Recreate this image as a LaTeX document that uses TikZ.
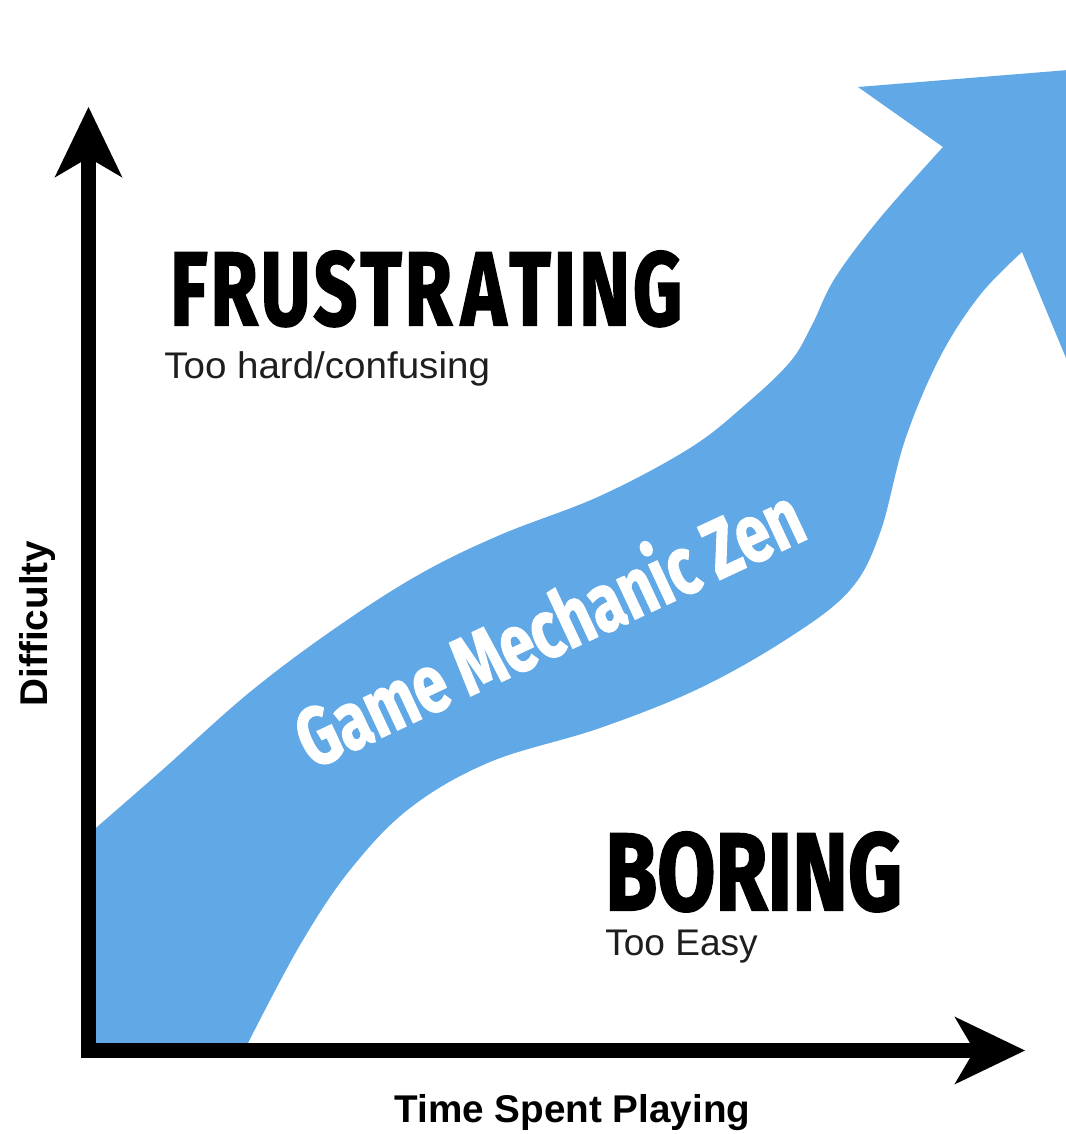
\documentclass[tikz,border=0pt]{standalone}
\usepackage{fontspec}
\setmainfont{Liberation Sans}
\newfontfamily\headfont{Fira Sans}[BoldFeatures={FakeBold=2}]
\newfontfamily\zenfont{Fira Sans}[BoldFeatures={FakeBold=1.5}]
\usepackage{graphicx}
\usetikzlibrary{arrows.meta}
\definecolor{zenblue}{RGB}{97,168,230}
\definecolor{subgray}{RGB}{30,30,30}
\tikzset{
  zen/.style={fill=zenblue},
  axisline/.style={line width=11.25pt, line join=miter,
    >={Stealth[length=53pt,width=51pt,inset=15pt,line width=0pt]}, <->},
  headline/.style={anchor=base west, inner sep=0pt, text=black, font=\headfont\bfseries},
  zenlabel/.style={anchor=base west, inner sep=0pt, text=white, font=\zenfont\bfseries},
  subline/.style={anchor=base west, inner sep=0pt, text=subgray, font=\fontsize{27.8}{30}\selectfont},
  axislabel/.style={anchor=base, inner sep=0pt, text=black, font=\bfseries\fontsize{29}{32}\selectfont},
}
\begin{document}
\begin{tikzpicture}[x=0.75pt,y=-0.75pt]
\useasboundingbox (0,0) rectangle (1066,1134);
\fill[white] (0,0) rectangle (1066,1134);

% blue band with arrow head
\begin{scope}
\clip (0,0) rectangle (1066,1134);
\fill[zen] (82,840) -- (82,1050) -- (248,1050)
  -- plot[smooth,tension=0.6] coordinates {(248,1043) (300,945) (350,870) (410,808) (490,762) (600,728) (700,688) (790,637) (850,590) (880,533) (905,440) (940,357) (980,295) (1022,252)}
  -- (1100,440) -- (1180,61) -- (858,87)
  -- plot[smooth,tension=0.6] coordinates {(943,147) (880,218) (835,278) (812,325) (790,362) (745,405) (690,448) (600,496) (500,535) (420,574) (337,627) (250,692) (160,772) (82,840)}
  -- cycle;
\end{scope}

% axes
\coordinate (corner) at (88.5,1050.5);
\coordinate (ytip) at (88.5,107);
\coordinate (xtip) at (1025,1050.5);
\draw[axisline] (ytip) -- (corner) -- (xtip);

% texts
\node[headline] (frus) at (170,325) {\resizebox{384pt}{55.5pt}{F\kern.04em R\kern.04em U\kern.04em S\kern.04em T\kern.04em R\kern.12em A\kern.04em T\kern.04em I\kern.04em N\kern.04em G}};
\node[subline] (frussub) at (164,378) {\scalebox{1.04}[1]{Too hard/confusing}};
\node[headline] (bor) at (605,910) {\resizebox{222.75pt}{58.5pt}{BORING}};
\node[subline] (borsub) at (605,955) {Too Easy};
\node[zenlabel, rotate=25] (zentext) at (312,770) {\resizebox{412pt}{50pt}{Game Mechanic Zen}};
\node[axislabel] (xlab) at (572.5,1122) {Time Spent Playing};
\node[axislabel, rotate=90] (ylab) at (47,623.5) {Difficulty};
\end{tikzpicture}
\end{document}
